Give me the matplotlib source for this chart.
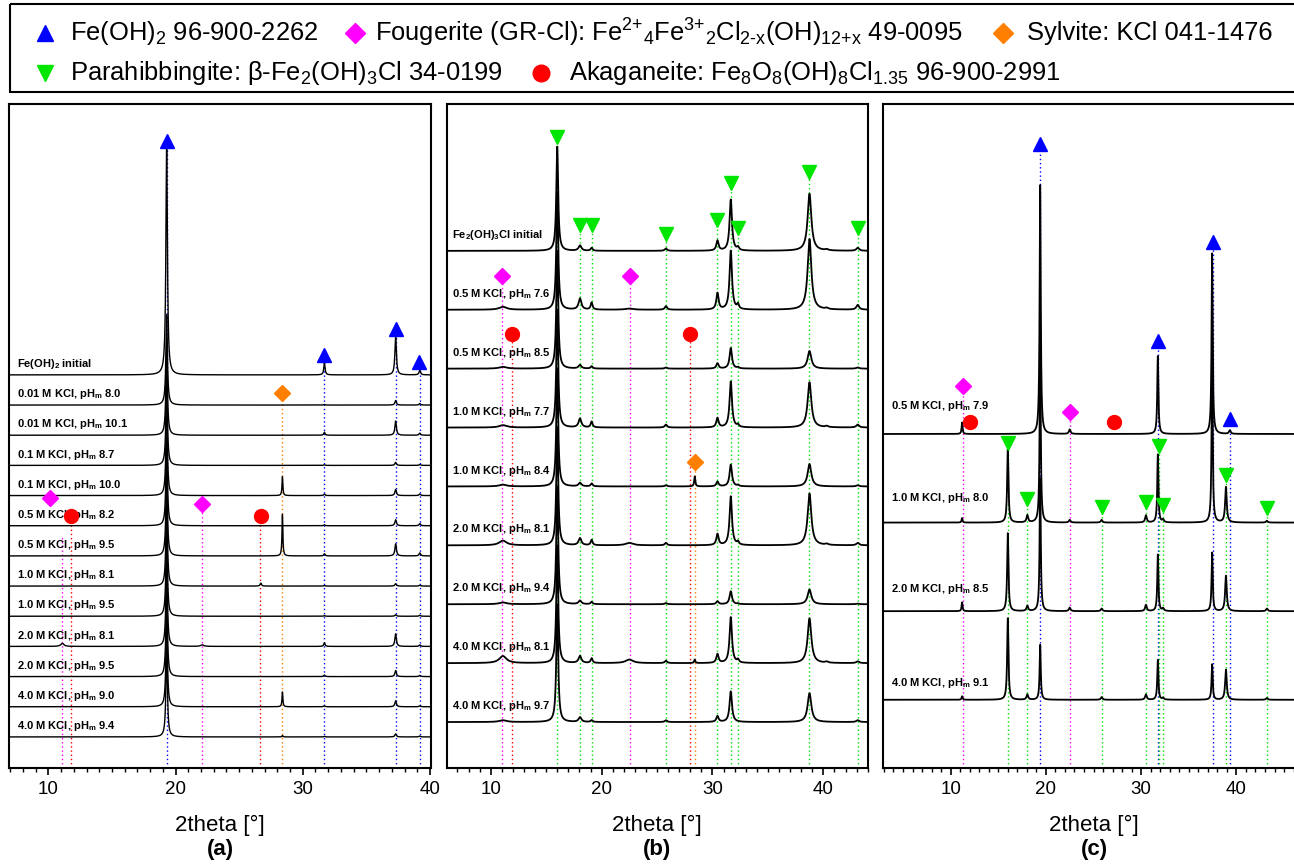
import numpy as np
import matplotlib
matplotlib.use("Agg")
from matplotlib import pyplot as plt
from matplotlib.patches import Rectangle
from matplotlib.ticker import MultipleLocator

plt.rcParams['font.family'] = ['Liberation Sans', 'DejaVu Sans']
plt.rcParams['mathtext.fontset'] = 'custom'
plt.rcParams['mathtext.rm'] = 'Liberation Sans'
plt.rcParams['mathtext.it'] = 'Liberation Sans:italic'
plt.rcParams['mathtext.bf'] = 'Liberation Sans:bold'

colores = {'fe': '#0000ff', 'gr': '#ff00ff', 'kcl': '#ff8000', 'para': '#00e600', 'aka': '#ff0000'}
simbolos = {'fe': '^', 'gr': 'D', 'kcl': 'D', 'para': 'v', 'aka': 'o'}
tamanos = {'fe': 10, 'gr': 8, 'kcl': 8, 'para': 10, 'aka': 10}

# ---- panel (a): Fe(OH)2 series ----
a_etiquetas = ['Fe(OH)$_\\mathbf{2}$ initial',
               '0.01 M KCl, pH$_\\mathbf{m}$ 8.0', '0.01 M KCl, pH$_\\mathbf{m}$ 10.1',
               '0.1 M KCl, pH$_\\mathbf{m}$ 8.7', '0.1 M KCl, pH$_\\mathbf{m}$ 10.0',
               '0.5 M KCl, pH$_\\mathbf{m}$ 8.2', '0.5 M KCl, pH$_\\mathbf{m}$ 9.5',
               '1.0 M KCl, pH$_\\mathbf{m}$ 8.1', '1.0 M KCl, pH$_\\mathbf{m}$ 9.5',
               '2.0 M KCl, pH$_\\mathbf{m}$ 8.1', '2.0 M KCl, pH$_\\mathbf{m}$ 9.5',
               '4.0 M KCl, pH$_\\mathbf{m}$ 9.0', '4.0 M KCl, pH$_\\mathbf{m}$ 9.4']
a_pos = [11.1, 19.3, 22.1, 26.7, 28.4, 31.7, 37.3, 39.2]
a_anchos = [0.15, 0.07, 0.15, 0.06, 0.04, 0.06, 0.07, 0.07]
a_alturas = [
    [0, 7.6, 0, 0, 0, 0.4, 1.25, 0.15],
    [0, 3.0, 0, 0, 0, 0.02, 0.15, 0.05],
    [0, 3.0, 0, 0, 0, 0.1, 0.47, 0.07],
    [0, 3.0, 0, 0, 0, 0.02, 0.1, 0.03],
    [0, 3.0, 0, 0, 0.63, 0.05, 0.2, 0.05],
    [0, 3.0, 0, 0, 0, 0.03, 0.2, 0.07],
    [0, 3.0, 0, 0, 1.38, 0.07, 0.4, 0.1],
    [0, 3.0, 0, 0.1, 0, 0.02, 0.08, 0.03],
    [0, 3.0, 0, 0, 0, 0.02, 0.05, 0.03],
    [0.1, 3.0, 0.05, 0, 0, 0.12, 0.42, 0.05],
    [0, 3.0, 0, 0, 0, 0.05, 0.2, 0.04],
    [0, 3.0, 0, 0, 0.49, 0.03, 0.2, 0.03],
    [0, 3.0, 0, 0, 0.05, 0.02, 0.1, 0.03],
]
a_marcas = [('fe', 19.3, 20.78), ('fe', 31.7, 13.69), ('fe', 37.3, 14.55), ('fe', 39.15, 13.46),
            ('kcl', 28.4, 12.43), ('gr', 10.1, 8.95), ('gr', 22.1, 8.75),
            ('aka', 11.8, 8.35), ('aka', 26.7, 8.35)]
a_lineas = [('gr', 11.1, 7.72), ('gr', 22.1, 8.75), ('aka', 11.75, 8.35), ('aka', 26.65, 8.35),
            ('kcl', 28.4, 12.43), ('fe', 19.3, 20.78), ('fe', 31.7, 13.69),
            ('fe', 37.35, 14.55), ('fe', 39.2, 13.46)]

# ---- panel (b): Fe2(OH)3Cl series ----
b_etiquetas = ['Fe$_\\mathbf{2}$(OH)$_\\mathbf{3}$Cl initial',
               '0.5 M KCl, pH$_\\mathbf{m}$ 7.6', '0.5 M KCl, pH$_\\mathbf{m}$ 8.5',
               '1.0 M KCl, pH$_\\mathbf{m}$ 7.7', '1.0 M KCl, pH$_\\mathbf{m}$ 8.4',
               '2.0 M KCl, pH$_\\mathbf{m}$ 8.1', '2.0 M KCl, pH$_\\mathbf{m}$ 9.4',
               '4.0 M KCl, pH$_\\mathbf{m}$ 8.1', '4.0 M KCl, pH$_\\mathbf{m}$ 9.7']
b_pos = [11.1, 16.0, 18.05, 19.1, 22.5, 25.8, 28.4, 30.45, 31.65, 32.3, 38.75, 40.3, 43.1]
b_anchos = [0.4, 0.1, 0.15, 0.1, 0.4, 0.12, 0.06, 0.12, 0.13, 0.1, 0.2, 0.15, 0.15]
b_alturas = [
    [0, 1.77, 0.09, 0.05, 0, 0.04, 0, 0.17, 0.87, 0.05, 0.97, 0.02, 0.05],
    [0.05, 2.0, 0.19, 0.12, 0.02, 0.06, 0, 0.28, 1.0, 0.08, 1.2, 0.02, 0.08],
    [0.03, 2.0, 0.06, 0.04, 0, 0.02, 0, 0.09, 0.35, 0.02, 0.3, 0, 0.02],
    [0.04, 2.0, 0.15, 0.1, 0, 0.05, 0, 0.16, 0.78, 0.04, 0.77, 0.02, 0.05],
    [0.03, 2.0, 0.06, 0.05, 0, 0.02, 0.17, 0.08, 0.37, 0.02, 0.38, 0, 0.02],
    [0.08, 2.0, 0.12, 0.09, 0.04, 0.04, 0, 0.19, 0.83, 0.05, 0.88, 0.02, 0.04],
    [0.03, 2.0, 0.06, 0.04, 0, 0.02, 0, 0.05, 0.22, 0.01, 0.25, 0, 0.01],
    [0.12, 2.0, 0.12, 0.08, 0.06, 0.04, 0.06, 0.15, 0.78, 0.05, 0.76, 0.02, 0.03],
    [0.03, 2.0, 0.08, 0.03, 0, 0.03, 0, 0.1, 0.52, 0, 0.49, 0, 0.03],
]
b_marcas = [('para', 16.0, 10.72), ('para', 18.05, 9.22), ('para', 19.1, 9.22), ('para', 25.8, 9.07),
            ('para', 30.45, 9.30), ('para', 31.65, 9.94), ('para', 32.3, 9.17), ('para', 38.75, 10.12),
            ('para', 43.1, 9.17), ('gr', 11.05, 8.35), ('gr', 22.55, 8.35),
            ('aka', 11.9, 7.37), ('aka', 28.0, 7.37), ('kcl', 28.4, 5.20)]
b_lineas = list(b_marcas)

# ---- panel (c): mixed series ----
c_etiquetas = ['0.5 M KCl, pH$_\\mathbf{m}$ 7.9', '1.0 M KCl, pH$_\\mathbf{m}$ 8.0',
               '2.0 M KCl, pH$_\\mathbf{m}$ 8.5', '4.0 M KCl, pH$_\\mathbf{m}$ 9.1']
c_pos = [11.2, 16.0, 18.05, 19.4, 22.5, 25.85, 30.5, 31.75, 32.3, 37.45, 38.9, 39.3, 43.2]
c_anchos = [0.06, 0.08, 0.1, 0.07, 0.1, 0.1, 0.1, 0.07, 0.1, 0.07, 0.1, 0.1, 0.1]
c_alturas = [
    [0.13, 0, 0, 2.81, 0.05, 0, 0, 0.88, 0, 2.04, 0, 0.04, 0],
    [0.05, 0.83, 0.08, 2.0, 0.03, 0.03, 0.08, 0.77, 0.03, 1.8, 0.4, 0, 0.02],
    [0.1, 0.88, 0.06, 1.5, 0.04, 0.03, 0.07, 0.64, 0.03, 0.66, 0.4, 0, 0.03],
    [0.04, 0.92, 0.06, 0.62, 0, 0.03, 0.06, 0.45, 0.02, 0.4, 0.34, 0, 0.02],
]
c_marcas = [('fe', 19.4, 7.04), ('fe', 37.5, 5.94), ('fe', 31.8, 4.82), ('fe', 39.3, 3.94),
            ('gr', 11.25, 4.31), ('gr', 22.5, 4.02), ('aka', 12.0, 3.91), ('aka', 27.2, 3.90),
            ('para', 16.0, 3.67), ('para', 31.9, 3.63), ('para', 38.9, 3.31), ('para', 18.05, 3.04),
            ('para', 25.85, 2.95), ('para', 30.5, 3.00), ('para', 32.3, 2.97), ('para', 43.2, 2.94)]
c_lineas = [m for m in c_marcas if m[0] != 'aka']

leyenda = [('fe', 45, 33, 70, 'Fe(OH)$_2$ 96-900-2262'),
           ('gr', 355, 33, 375,
            'Fougerite (GR-Cl): $\\mathregular{Fe^{2{+}}{}_4Fe^{3{+}}{}_2Cl_{2\u2010x}(OH)_{12{+}x}}$ 49-0095'),
           ('kcl', 1003, 33, 1027, 'Sylvite: KCl 041-1476'),
           ('para', 45, 73, 70, 'Parahibbingite: β-Fe$_2$(OH)$_3$Cl 34-0199'),
           ('aka', 541, 73, 569, 'Akaganeite: Fe$_8$O$_8$(OH)$_8$Cl$_{1.35}$ 96-900-2991')]


def patron(x, pos, anchos, alturas):
    y = np.zeros_like(x)
    for p, w, h in zip(pos, anchos, alturas):
        if h:
            y += h / (1 + ((x - p) / w) ** 2)
    return y


def panel(ax, xlim, ylim, base0, pos, anchos, alturas, etiquetas, lab_x, lab_dy,
          marcas, lineas, lw, letra):
    x = np.linspace(xlim[0], xlim[1], 6000)
    n = len(alturas)
    for i, (fila, et) in enumerate(zip(alturas, etiquetas)):
        base = base0 + (n - 1 - i)
        ax.plot(x, base + patron(x, pos, anchos, fila), color='black', lw=lw, zorder=3)
        dy = lab_dy[i] if isinstance(lab_dy, list) else lab_dy
        ax.text(lab_x, base + dy, et, fontsize=8, fontweight='bold', va='center', ha='left', zorder=4)
    for fase, xl, ytop in lineas:
        ax.plot([xl, xl], [0, ytop], color=colores[fase], ls=(0, (1, 2)), lw=1.0, zorder=1)
    for fase, xm, ym in marcas:
        ax.plot(xm, ym, marker=simbolos[fase], color=colores[fase], ms=tamanos[fase],
                ls='none', zorder=5, clip_on=False)
    ax.set_xlim(*xlim)
    ax.set_ylim(*ylim)
    ax.set_yticks([])
    ax.set_xticks([10, 20, 30, 40])
    ax.xaxis.set_minor_locator(MultipleLocator(1))
    ax.tick_params(axis='x', which='major', direction='out', length=5, width=1.2,
                   labelsize=13.5, pad=4)
    ax.tick_params(axis='x', which='minor', direction='out', length=3, width=1.0)
    for s in ax.spines.values():
        s.set_linewidth(1.5)
    ax.text(0.5, -0.086, '2theta [°]', transform=ax.transAxes, ha='center', va='center', fontsize=16)
    ax.text(0.5, -0.122, letra, transform=ax.transAxes, ha='center', va='center',
            fontsize=16, fontweight='bold')


fig = plt.figure(figsize=(12.94, 8.66), dpi=100)
alto = 664 / 866
abajo = 98 / 866
ax_a = fig.add_axes([9.3 / 1294, abajo, 421.7 / 1294, alto])
ax_b = fig.add_axes([446.7 / 1294, abajo, 421.0 / 1294, alto])
ax_c = fig.add_axes([883.3 / 1294, abajo, 421.7 / 1294, alto])

panel(ax_a, (6.93, 40.08), (0, 664 / 30.17), 1.03, a_pos, a_anchos, a_alturas, a_etiquetas,
      7.53, 0.36, a_marcas, a_lineas, 1.0, '(a)')
panel(ax_b, (6.03, 44.0), (0, 664 / 58.9), 0.78, b_pos, b_anchos, b_alturas, b_etiquetas,
      6.5, 0.27, b_marcas, b_lineas, 1.3, '(b)')
panel(ax_c, (2.93, 47.2), (0, 664 / 88.6), 0.77, c_pos, c_anchos, c_alturas, c_etiquetas,
      3.7, [0.32, 0.28, 0.25, 0.19], c_marcas, c_lineas, 1.3, '(c)')

# legend strip
ax_l = fig.add_axes([0, 1 - 95 / 866, 1, 95 / 866])
ax_l.set_xlim(0, 1294)
ax_l.set_ylim(95, 0)
ax_l.axis('off')
ax_l.add_patch(Rectangle((10, 4), 1300, 88, fill=False, lw=1.5, edgecolor='black', clip_on=False))
for fase, xm, ym, xt, txt in leyenda:
    ax_l.plot(xm, ym, marker=simbolos[fase], color=colores[fase], ms=tamanos[fase] + 2, ls='none')
    ax_l.text(xt, ym, txt, fontsize=18.4, va='center', ha='left')

fig.savefig('out.png', dpi=100)
